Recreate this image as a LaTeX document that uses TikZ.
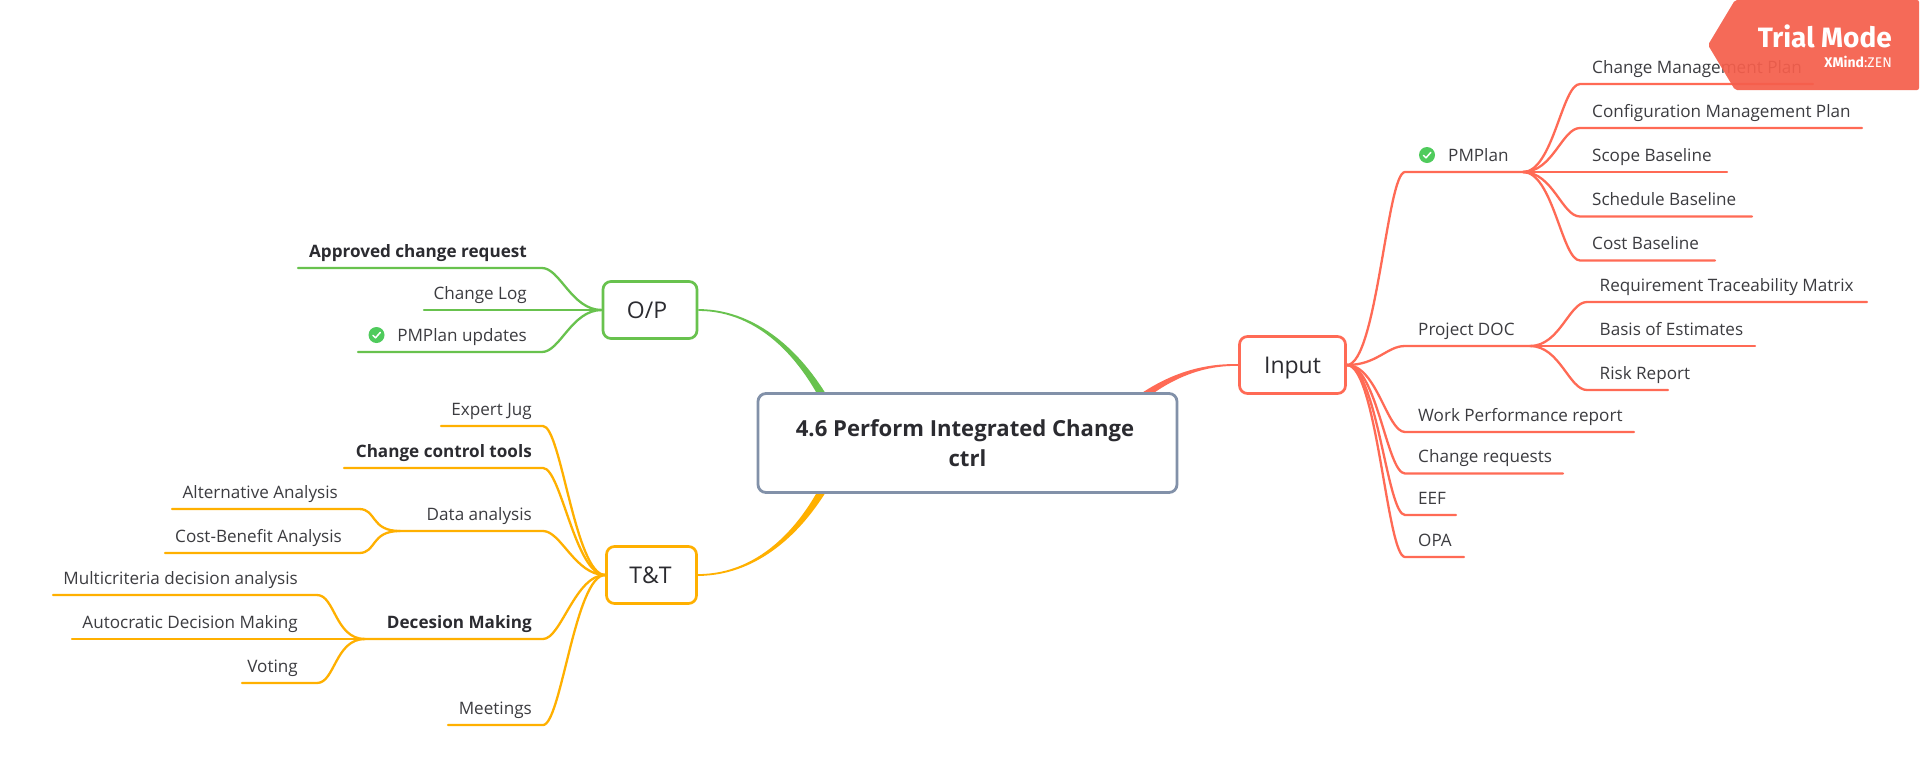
\documentclass[tikz,border=0pt]{standalone}
\usepackage{fontspec}
\usetikzlibrary{calc}
\setmainfont{Open Sans}
\newfontfamily\badgefont{Fira Sans}
\definecolor{redc}{HTML}{FF6A55}
\definecolor{greenc}{HTML}{68C24E}
\definecolor{yelc}{HTML}{FFB000}
\definecolor{txt}{HTML}{3C3C40}
\definecolor{dark}{HTML}{2B2B30}
\definecolor{slate}{HTML}{8291A9}
\definecolor{okc}{HTML}{4FCB5C}
\definecolor{badge}{HTML}{F55F4C}
\tikzset{
  twig/.style={line width=2.3pt,line cap=round},
  lab/.style={inner sep=0pt,text=txt,font=\fontsize{17.1}{20}\selectfont},
  topicbox/.style={draw,line width=2.7pt,rounded corners=8pt,fill=white,text=dark,inner sep=0pt,font=\fontsize{23}{26}\selectfont},
  centralbox/.style={draw=slate,line width=2.8pt,rounded corners=8pt,fill=white,text=dark,inner sep=0pt,align=center,font=\fontsize{22.1}{30}\selectfont\bfseries},
  okicon/.style={circle,fill=okc,minimum size=16pt,inner sep=0pt},
  tick/.style={draw=white,line width=1.5pt,line cap=round,line join=round}
}
% right-hand topic: name, parent, x curve end, x line end, y, x text, text
\newcommand\rtwig[7]{%
  \coordinate (#1s) at (#3,#5);
  \coordinate (#1e) at (#4,#5);
  \draw[twig,branch] (#2) .. controls +(30,0) and +(-18,0) .. (#1s) -- (#1e);
  \node[lab,anchor=base west] (#1) at (#6,#5-11) {#7};
}
% left-hand topic: name, parent, x curve end, x line end, y, x text right, text
\newcommand\ltwig[7]{%
  \coordinate (#1s) at (#3,#5);
  \coordinate (#1e) at (#4,#5);
  \draw[twig,branch] (#2) .. controls +(-30,0) and +(18,0) .. (#1s) -- (#1e);
  \node[lab,anchor=base east] (#1) at (#6,#5-11) {#7};
}
\newcommand\okmark[2]{%
  \node[okicon] (#1) at (#2) {};
  \draw[tick] ($(#1)+(-3.6,0.3)$) -- ($(#1)+(-1,2.8)$) -- ($(#1)+(3.8,-2.6)$);
}
\begin{document}
\begin{tikzpicture}[x=1pt,y=-1pt]
\useasboundingbox (0,0) rectangle (1920,780);
\fill[white] (0,0) rectangle (1920,780);

\node[topicbox,draw=redc,minimum width=106pt,minimum height=57pt] (input) at (1292.5,365) {\raisebox{-8pt}[0pt][0pt]{Input}};
\node[topicbox,draw=greenc,minimum width=94pt,minimum height=57pt] (op) at (650,310) {O/P\kern 6pt};
\node[topicbox,draw=yelc,minimum width=90pt,minimum height=57pt] (tt) at (651.5,575) {T\&T\kern 2pt};

% hidden ends of the main branches, behind the central box
\coordinate (cr1) at (1113,428);
\coordinate (cr2) at (1107,421);
\coordinate (cg1) at (844,428);
\coordinate (cg2) at (835,432);
\coordinate (cy1) at (844,458);
\coordinate (cy2) at (835,454);
\fill[redc] ($(input.west)+(0,-.9)$) .. controls (1189,363) and (1147,383) .. (cr2) -- (cr1) .. controls (1152,388) and (1191,365) .. ($(input.west)+(0,.9)$) -- cycle;
\fill[greenc] ($(op.east)+(0,-.9)$) .. controls (760.5,309.2) and (812.5,358.5) .. (cg1) -- (cg2) .. controls (807.5,361) and (759.5,310.8) .. ($(op.east)+(0,.9)$) -- cycle;
\fill[yelc] ($(tt.east)+(0,.9)$) .. controls (760.5,575.8) and (812.5,527.5) .. (cy1) -- (cy2) .. controls (807.5,525) and (759.5,574.2) .. ($(tt.east)+(0,-.9)$) -- cycle;

\node[centralbox,minimum width=419pt,minimum height=99pt] (central) at (967.5,443) {4.6 Perform Integrated Change\kern 5pt\\ctrl};

\begin{scope}[branch/.style={draw=redc}]
  \rtwig{pm}{input.east}{1405}{1523}{172}{1448}{PMPlan}
  \rtwig{doc}{input.east}{1405}{1530}{346}{1418}{Project DOC}
  \rtwig{wpr}{input.east}{1405}{1634}{432}{1418}{Work Performance report}
  \rtwig{crq}{input.east}{1405}{1563}{473.5}{1418}{Change requests}
  \rtwig{eef}{input.east}{1405}{1456}{515}{1418}{EEF}
  \rtwig{opa}{input.east}{1405}{1464}{557}{1418}{OPA}
  \rtwig{cmp}{pme}{1580}{1813}{84}{1592}{Change Management Plan}
  \rtwig{cfg}{pme}{1580}{1862}{128}{1592}{Configuration Management Plan}
  \rtwig{scp}{pme}{1580}{1727}{172}{1592}{Scope Baseline}
  \rtwig{sch}{pme}{1580}{1752}{216.5}{1592}{Schedule Baseline}
  \rtwig{cst}{pme}{1580}{1715}{260.5}{1592}{Cost Baseline}
  \rtwig{rtm}{doce}{1587}{1867}{302}{1599.5}{Requirement Traceability Matrix}
  \rtwig{boe}{doce}{1587}{1755}{346}{1599.5}{Basis of Estimates}
  \rtwig{rsk}{doce}{1587}{1668}{390}{1599.5}{Risk Report}
\end{scope}
\okmark{okpm}{1427,155}

\begin{scope}[branch/.style={draw=greenc}]
  \ltwig{acr}{op.west}{542}{298}{268}{527}{\bfseries\color{dark}Approved change request}
  \ltwig{clg}{op.west}{542}{424}{310}{527}{Change Log}
  \ltwig{pup}{op.west}{542}{358}{352}{527}{PMPlan updates}
\end{scope}
\okmark{okup}{376.5,335}

\begin{scope}[branch/.style={draw=yelc}]
  \ltwig{exj}{tt.west}{543}{441}{426}{532}{Expert Jug}
  \ltwig{cct}{tt.west}{543}{344}{468}{532}{\bfseries\color{dark}Change control tools}
  \ltwig{dan}{tt.west}{543}{400}{531}{532}{Data analysis}
  \ltwig{dcm}{tt.west}{543}{365}{639}{532}{\bfseries\color{dark}Decesion Making}
  \ltwig{mtg}{tt.west}{543}{448}{725}{532}{Meetings}
  \ltwig{alt}{dane}{359}{172}{509}{338}{Alternative Analysis}
  \ltwig{cba}{dane}{359}{165}{553}{342}{Cost-Benefit Analysis}
  \ltwig{mcd}{dcme}{317}{53}{595}{298}{Multicriteria decision analysis}
  \ltwig{adm}{dcme}{317}{72}{639}{298}{Autocratic Decision Making}
  \ltwig{vot}{dcme}{317}{242}{683}{298}{Voting}
\end{scope}

% trial badge
\fill[badge,opacity=.93,rounded corners=2pt] (1708,45) -- (1735,0) -- (1919,0) -- (1919,90) -- (1735,90) -- cycle;
\node[inner sep=0pt,anchor=base east,text=white,font=\badgefont\fontsize{28}{30}\selectfont] (trial) at (1892,47.5) {\textbf{Trial Mode}};
\node[inner sep=0pt,anchor=base east,text=white,font=\badgefont\fontsize{14}{16}\selectfont] (zen) at (1892,67) {\textbf{XMind}:ZEN};
\end{tikzpicture}
\end{document}
